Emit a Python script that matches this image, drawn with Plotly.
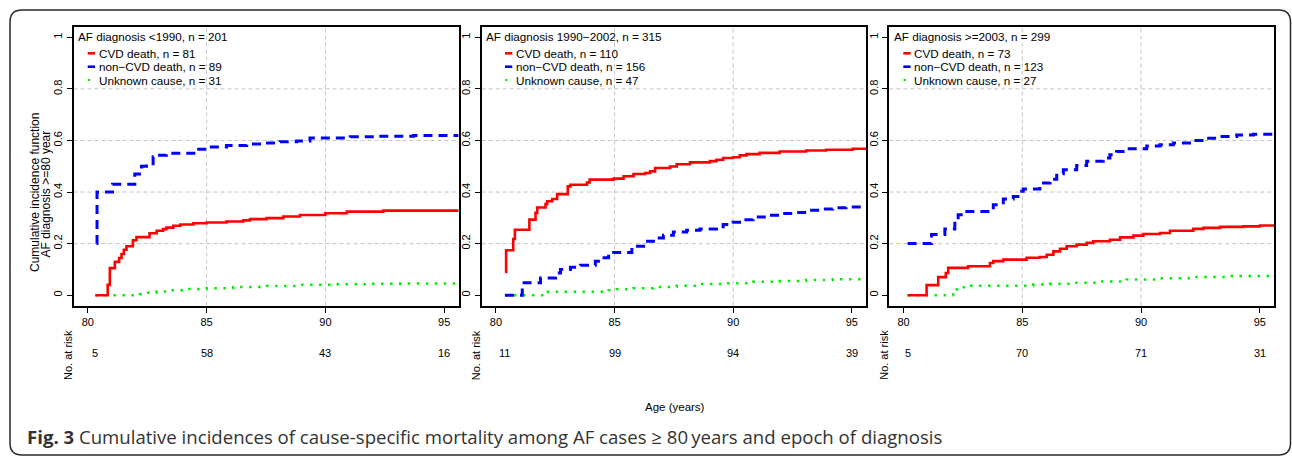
import plotly.graph_objects as go

W, H = 1292, 457

# ---------------- data ----------------
# Panel 1: AF diagnosis <1990
p1_cvd_age = [80.32, 80.84, 80.93, 81.14, 81.32, 81.42, 81.52, 81.63, 81.9, 82.05, 82.6, 82.9, 83.17, 83.31, 83.6, 83.9, 84.44, 85.0, 85.84, 86.54, 86.83, 87.53, 88.23, 88.93, 90.0, 90.9, 92.44, 95.6]
p1_cvd_cif = [0, 0.04, 0.105, 0.129, 0.144, 0.16, 0.176, 0.19, 0.213, 0.225, 0.24, 0.25, 0.256, 0.262, 0.269, 0.274, 0.279, 0.282, 0.286, 0.29, 0.295, 0.299, 0.305, 0.311, 0.318, 0.324, 0.328, 0.331]
p1_non_age = [80.37, 80.39, 81.04, 81.98, 82.26, 82.47, 82.75, 82.96, 83.31, 84.58, 85.0, 85.84, 86.69, 87.39, 88.09, 88.79, 89.35, 91.04, 92.16, 93.71, 95.6]
p1_non_cif = [0.2, 0.4, 0.43, 0.47, 0.50, 0.51, 0.537, 0.543, 0.55, 0.566, 0.575, 0.58, 0.586, 0.59, 0.595, 0.598, 0.61, 0.614, 0.616, 0.619, 0.62]
p1_unk_age = [80.32, 82.19, 82.47, 82.89, 83.31, 84.16, 85.0, 86.12, 87.53, 88.93, 90.34, 91.74, 93.15, 95.6]
p1_unk_cif = [0, 0.004, 0.009, 0.014, 0.019, 0.024, 0.027, 0.032, 0.036, 0.04, 0.042, 0.044, 0.045, 0.046]

# Panel 2: AF diagnosis 1990-2002
p2_cvd_age = [80.38, 80.43, 80.73, 80.80, 81.41, 81.67, 81.74, 82.09, 82.16, 82.37, 82.58, 83.03, 83.14, 83.84, 83.95, 84.96, 85.38, 85.8, 86.29, 86.5, 86.71, 87.34, 87.62, 88.18, 89.02, 89.3, 89.58, 90.0, 90.28, 90.56, 91.12, 91.96, 93.08, 93.92, 95.04, 95.6]
p2_cvd_cif = [0.09, 0.174, 0.218, 0.254, 0.293, 0.319, 0.34, 0.353, 0.364, 0.373, 0.392, 0.422, 0.428, 0.437, 0.448, 0.452, 0.461, 0.47, 0.474, 0.48, 0.493, 0.499, 0.508, 0.515, 0.52, 0.525, 0.532, 0.535, 0.542, 0.547, 0.552, 0.557, 0.561, 0.564, 0.568, 0.569]
p2_non_age = [80.38, 81.11, 81.88, 82.51, 82.72, 83.14, 83.56, 84.19, 84.4, 84.75, 84.96, 85.73, 86.22, 86.64, 87.06, 87.48, 88.04, 88.6, 89.3, 89.58, 90.0, 90.42, 90.84, 91.4, 91.96, 92.52, 93.08, 93.64, 94.2, 94.76, 95.6]
p2_non_cif = [0, 0.048, 0.067, 0.086, 0.1, 0.108, 0.116, 0.132, 0.145, 0.157, 0.166, 0.19, 0.209, 0.222, 0.232, 0.245, 0.252, 0.257, 0.265, 0.274, 0.283, 0.293, 0.303, 0.31, 0.317, 0.321, 0.329, 0.334, 0.339, 0.342, 0.345]
p2_unk_age = [80.38, 82.09, 84.75, 85.1, 85.8, 86.64, 87.62, 88.6, 89.72, 90.84, 91.96, 93.08, 94.2, 95.6]
p2_unk_cif = [0, 0.013, 0.019, 0.023, 0.027, 0.032, 0.037, 0.043, 0.046, 0.052, 0.055, 0.059, 0.062, 0.065]

# Panel 3: AF diagnosis >=2003
p3_cvd_age = [80.17, 80.97, 81.46, 81.78, 81.88, 82.72, 83.64, 83.78, 84.2, 85.18, 85.74, 86.03, 86.31, 86.59, 86.87, 87.29, 87.71, 87.99, 88.69, 89.12, 89.68, 90.1, 90.8, 91.22, 92.2, 92.63, 93.33, 94.31, 95.01, 95.6]
p3_cvd_cif = [0, 0.039, 0.07, 0.086, 0.106, 0.112, 0.125, 0.132, 0.138, 0.145, 0.148, 0.157, 0.17, 0.18, 0.19, 0.196, 0.203, 0.209, 0.215, 0.224, 0.231, 0.237, 0.241, 0.25, 0.257, 0.261, 0.265, 0.267, 0.27, 0.27]
p3_non_age = [80.17, 81.18, 81.74, 82.16, 82.3, 82.51, 83.78, 84.2, 84.62, 84.9, 85.04, 85.74, 86.17, 86.45, 86.73, 87.29, 87.71, 88.41, 88.69, 88.97, 89.4, 90.24, 90.8, 91.36, 92.2, 92.63, 93.33, 94.03, 94.73, 95.6]
p3_non_cif = [0.2, 0.235, 0.257, 0.293, 0.312, 0.325, 0.351, 0.373, 0.383, 0.403, 0.412, 0.435, 0.45, 0.471, 0.486, 0.503, 0.519, 0.532, 0.545, 0.557, 0.568, 0.579, 0.583, 0.59, 0.6, 0.609, 0.615, 0.621, 0.624, 0.628]
p3_unk_age = [80.17, 82.09, 82.23, 82.37, 82.65, 85.46, 86.17, 87.15, 88.27, 89.4, 90.8, 92.2, 93.61, 95.6]
p3_unk_cif = [0, 0.01, 0.022, 0.031, 0.037, 0.041, 0.044, 0.048, 0.053, 0.061, 0.066, 0.071, 0.074, 0.076]

panel_titles = ["AF diagnosis <1990, n = 201", "AF diagnosis 1990\u22122002, n = 315", "AF diagnosis >=2003, n = 299"]
cvd_n = [81, 110, 73]
non_n = [89, 156, 123]
unk_n = [31, 47, 27]

risk_ages = [85, 90, 95]
p1_risk = [5, 58, 43, 16]
p2_risk = [11, 99, 94, 39]
p3_risk = [5, 70, 71, 31]

x_ticks = [80, 85, 90, 95]
y_ticks = [0, 0.2, 0.4, 0.6, 0.8, 1]
y_ticktext = ["0", "0.2", "0.4", "0.6", "0.8", "1"]
grid_x = [85, 90]
grid_y = [0.2, 0.4, 0.6, 0.8]

# --------------- layout helpers ---------------
def px(x):
    return x / W

def py(y):
    return 1 - y / H

FONT = "Liberation Sans, Arial, sans-serif"
RED, BLUE, GREEN = "#FF0000", "#0000FF", "#00EE00"

boxes = [(73.5, 458.5), (481.7, 866.0), (889.3, 1274.0)]
box_top, box_bot = 27.0, 305.5
legend_glyph_x = [87.7, 505.0, 903.3]
legend_text_x = [96.5, 514.0, 911.5]

panels = [
    (p1_cvd_age, p1_cvd_cif, p1_non_age, p1_non_cif, p1_unk_age, p1_unk_cif, p1_risk),
    (p2_cvd_age, p2_cvd_cif, p2_non_age, p2_non_cif, p2_unk_age, p2_unk_cif, p2_risk),
    (p3_cvd_age, p3_cvd_cif, p3_non_age, p3_non_cif, p3_unk_age, p3_unk_cif, p3_risk),
]

fig = go.Figure()
shapes = []
annotations = []
layout_axes = {}

for i, (cva, cvc, noa, noc, uka, ukc, risk) in enumerate(panels):
    k = "" if i == 0 else str(i + 1)
    xa, ya = "x" + k, "y" + k
    # traces
    fig.add_trace(go.Scatter(x=uka, y=ukc, xaxis=xa, yaxis=ya, mode="lines", line_shape="hv",
                             line=dict(color=GREEN, width=2.5, dash="2.5px,6.5px"), showlegend=False))
    fig.add_trace(go.Scatter(x=noa, y=noc, xaxis=xa, yaxis=ya, mode="lines", line_shape="hv",
                             line=dict(color=BLUE, width=3, dash="9px,6px"), showlegend=False))
    fig.add_trace(go.Scatter(x=cva, y=cvc, xaxis=xa, yaxis=ya, mode="lines", line_shape="hv",
                             line=dict(color=RED, width=2.6), showlegend=False))
    bl, br = boxes[i]
    common = dict(showline=True, linecolor="black", linewidth=2, mirror=True, showgrid=False,
                  zeroline=False, ticks="outside", ticklen=5, tickwidth=1, tickcolor="black",
                  tickfont=dict(family=FONT, size=11, color="black"))
    layout_axes["xaxis" + k] = dict(common, domain=[px(bl), px(br)], range=[79.4, 95.6],
                                    tickvals=x_ticks, ticktext=[str(v) for v in x_ticks],
                                    anchor=ya)
    layout_axes["yaxis" + k] = dict(common, domain=[py(box_bot), py(box_top)], range=[-0.04, 1.04],
                                    tickvals=y_ticks, ticktext=y_ticktext, tickangle=-90,
                                    anchor=xa)
    # grid
    for gy in grid_y:
        shapes.append(dict(type="line", xref=xa + " domain", yref=ya, x0=0, x1=1, y0=gy, y1=gy,
                           line=dict(color="#C4C4C4", width=1, dash="4px,3px"), layer="below"))
    for gx in grid_x:
        shapes.append(dict(type="line", xref=xa, yref=ya + " domain", x0=gx, x1=gx, y0=0, y1=1,
                           line=dict(color="#C4C4C4", width=1, dash="4px,3px"), layer="below"))
    # legend block
    annotations.append(dict(text=panel_titles[i], xref="paper", yref="paper", x=px(bl + 2.5), y=py(36),
                            xanchor="left", yanchor="middle", showarrow=False,
                            font=dict(family=FONT, size=11.7, color="black")))
    entries = [("CVD death, n = %d" % cvd_n[i], RED, 53.3),
               ("non\u2212CVD death, n = %d" % non_n[i], BLUE, 66.7),
               ("Unknown cause, n = %d" % unk_n[i], GREEN, 80.0)]
    for j, (txt, col, yy) in enumerate(entries):
        annotations.append(dict(text=txt, xref="paper", yref="paper", x=px(legend_text_x[i]), y=py(yy),
                                xanchor="left", yanchor="middle", showarrow=False,
                                font=dict(family=FONT, size=11.7, color="black")))
        gx0 = legend_glyph_x[i]
        if j < 2:
            shapes.append(dict(type="line", xref="paper", yref="paper", x0=px(gx0), x1=px(gx0 + 7.3),
                               y0=py(yy), y1=py(yy), line=dict(color=col, width=2.6)))
        else:
            shapes.append(dict(type="rect", xref="paper", yref="paper", x0=px(gx0 + 0.3), x1=px(gx0 + 2.5),
                               y0=py(yy + 1.1), y1=py(yy - 1.1), line=dict(width=0), fillcolor=col))
    # numbers at risk
    start_age = min(cva[0], noa[0], uka[0])
    for age, n in zip([start_age] + risk_ages, risk):
        annotations.append(dict(text=str(n), xref=xa, yref="paper", x=age, y=py(353),
                                xanchor="center", yanchor="middle", showarrow=False,
                                font=dict(family=FONT, size=11, color="black")))
    annotations.append(dict(text="No. at risk", xref="paper", yref="paper", x=px(bl - 5.5), y=py(355),
                            xanchor="center", yanchor="middle", textangle=-90, showarrow=False,
                            font=dict(family=FONT, size=11, color="black")))

# y title
annotations.append(dict(text="Cumulative incidence function", xref="paper", yref="paper", x=px(35), y=py(193),
                        xanchor="center", yanchor="middle", textangle=-90, showarrow=False,
                        font=dict(family=FONT, size=12, color="black")))
annotations.append(dict(text="AF diagnosis >=80 year", xref="paper", yref="paper", x=px(45.5), y=py(194),
                        xanchor="center", yanchor="middle", textangle=-90, showarrow=False,
                        font=dict(family=FONT, size=12, color="black")))
# x title
annotations.append(dict(text="Age (years)", xref="paper", yref="paper", x=px(675), y=py(407),
                        xanchor="center", yanchor="middle", showarrow=False,
                        font=dict(family=FONT, size=11.5, color="black")))
# caption
annotations.append(dict(text="<b>Fig. 3</b> Cumulative incidences of cause-specific mortality among AF cases \u2265 80\u2009years and epoch of diagnosis",
                        xref="paper", yref="paper", x=px(25), y=py(436), xanchor="left", yanchor="middle",
                        showarrow=False, font=dict(family="Open Sans, sans-serif", size=18.6, color="#333333")))

# outer rounded frame
L, T, R, B, r = 10.0, 10.0, 1290.5, 455.0, 12.0
path = (f"M {px(L + r)},{py(T)} L {px(R - r)},{py(T)} Q {px(R)},{py(T)} {px(R)},{py(T + r)} "
        f"L {px(R)},{py(B - r)} Q {px(R)},{py(B)} {px(R - r)},{py(B)} "
        f"L {px(L + r)},{py(B)} Q {px(L)},{py(B)} {px(L)},{py(B - r)} "
        f"L {px(L)},{py(T + r)} Q {px(L)},{py(T)} {px(L + r)},{py(T)} Z")
shapes.append(dict(type="path", xref="paper", yref="paper", path=path,
                   line=dict(color="#2a2a2a", width=1.5)))

fig.update_layout(width=W, height=H, margin=dict(l=0, r=0, t=0, b=0),
                  paper_bgcolor="white", plot_bgcolor="white",
                  shapes=shapes, annotations=annotations, **layout_axes)

fig.write_html("out.html", config={"displayModeBar": False},
               post_script="document.body.style.margin='0';document.body.style.overflow='hidden';")
